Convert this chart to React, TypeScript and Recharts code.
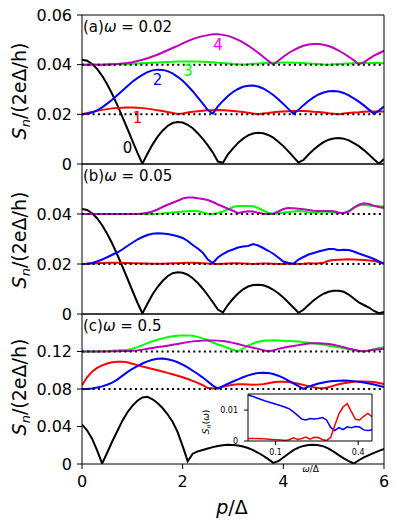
import { LineChart, Line, XAxis, YAxis, ReferenceLine, CartesianGrid } from 'recharts';

// momentum grid p/Δ
const P = [
  0, 0.1, 0.2, 0.3, 0.4, 0.5, 0.6, 0.7, 0.8, 0.9,
  1.0, 1.1, 1.2, 1.3, 1.4, 1.5, 1.6, 1.7, 1.8, 1.9,
  2.0, 2.1, 2.2, 2.3, 2.4, 2.5, 2.6, 2.7, 2.8, 2.9,
  3.0, 3.1, 3.2, 3.3, 3.4, 3.5, 3.6, 3.7, 3.8, 3.9,
  4.0, 4.1, 4.2, 4.3, 4.4, 4.5, 4.6, 4.7, 4.8, 4.9,
  5.0, 5.1, 5.2, 5.3, 5.4, 5.5, 5.6, 5.7, 5.8, 5.9,
  6.0,
];

// (a) ω = 0.02
const A_S0 = [
  0.0420, 0.0416, 0.0403, 0.0383, 0.0355, 0.0321, 0.0282, 0.0238, 0.0191, 0.0143,
  0.0094, 0.0046, 0.0001, 0.0041, 0.0078, 0.0109, 0.0134, 0.0153, 0.0165, 0.0169,
  0.0167, 0.0158, 0.0144, 0.0124, 0.0101, 0.0075, 0.0046, 0.0010, 0.0005, 0.0039,
  0.0063, 0.0085, 0.0102, 0.0115, 0.0123, 0.0126, 0.0124, 0.0117, 0.0106, 0.0090,
  0.0072, 0.0051, 0.0029, 0.0006, 0.0016, 0.0038, 0.0057, 0.0074, 0.0088, 0.0098,
  0.0103, 0.0105, 0.0102, 0.0095, 0.0084, 0.0072, 0.0056, 0.0038, 0.0019, 0.0001,
  0.0020,
];
const A_S1 = [
  0.0200, 0.0205, 0.0209, 0.0214, 0.0218, 0.0221, 0.0224, 0.0226, 0.0227, 0.0228,
  0.0228, 0.0227, 0.0225, 0.0223, 0.0220, 0.0216, 0.0213, 0.0209, 0.0205, 0.0201,
  0.0203, 0.0207, 0.0210, 0.0212, 0.0214, 0.0216, 0.0216, 0.0217, 0.0216, 0.0215,
  0.0213, 0.0211, 0.0209, 0.0206, 0.0203, 0.0200, 0.0203, 0.0205, 0.0208, 0.0210,
  0.0211, 0.0212, 0.0213, 0.0213, 0.0213, 0.0212, 0.0210, 0.0209, 0.0207, 0.0204,
  0.0202, 0.0200, 0.0203, 0.0205, 0.0207, 0.0208, 0.0210, 0.0211, 0.0211, 0.0211,
  0.0211,
];
const A_S2 = [
  0.0200, 0.0202, 0.0207, 0.0216, 0.0228, 0.0243, 0.0259, 0.0277, 0.0295, 0.0313,
  0.0331, 0.0346, 0.0359, 0.0370, 0.0377, 0.0380, 0.0379, 0.0374, 0.0365, 0.0351,
  0.0335, 0.0315, 0.0293, 0.0268, 0.0243, 0.0217, 0.0203, 0.0232, 0.0254, 0.0274,
  0.0290, 0.0302, 0.0311, 0.0315, 0.0316, 0.0312, 0.0304, 0.0292, 0.0278, 0.0261,
  0.0242, 0.0222, 0.0202, 0.0218, 0.0237, 0.0254, 0.0268, 0.0280, 0.0288, 0.0293,
  0.0294, 0.0292, 0.0286, 0.0276, 0.0264, 0.0251, 0.0236, 0.0219, 0.0202, 0.0215,
  0.0231,
];
const A_S3 = [
  0.0400, 0.0400, 0.0400, 0.0400, 0.0400, 0.0401, 0.0401, 0.0402, 0.0402, 0.0403,
  0.0404, 0.0405, 0.0406, 0.0407, 0.0408, 0.0409, 0.0410, 0.0411, 0.0412, 0.0413,
  0.0413, 0.0413, 0.0413, 0.0413, 0.0412, 0.0411, 0.0410, 0.0408, 0.0407, 0.0405,
  0.0403, 0.0402, 0.0400, 0.0402, 0.0404, 0.0405, 0.0406, 0.0407, 0.0408, 0.0408,
  0.0409, 0.0409, 0.0408, 0.0408, 0.0407, 0.0405, 0.0404, 0.0403, 0.0401, 0.0400,
  0.0402, 0.0403, 0.0404, 0.0405, 0.0406, 0.0407, 0.0407, 0.0407, 0.0407, 0.0407,
  0.0406,
];
const A_S4 = [
  0.0400, 0.0400, 0.0400, 0.0400, 0.0400, 0.0401, 0.0402, 0.0403, 0.0405, 0.0407,
  0.0410, 0.0415, 0.0420, 0.0426, 0.0433, 0.0440, 0.0449, 0.0458, 0.0467, 0.0476,
  0.0486, 0.0495, 0.0503, 0.0510, 0.0515, 0.0519, 0.0522, 0.0522, 0.0520, 0.0516,
  0.0509, 0.0500, 0.0490, 0.0477, 0.0463, 0.0448, 0.0432, 0.0415, 0.0401, 0.0416,
  0.0432, 0.0446, 0.0458, 0.0468, 0.0476, 0.0481, 0.0483, 0.0483, 0.0480, 0.0475,
  0.0467, 0.0457, 0.0445, 0.0432, 0.0418, 0.0402, 0.0409, 0.0423, 0.0436, 0.0446,
  0.0456,
];

// (b) ω = 0.05
const B_S0 = [
  0.0420, 0.0416, 0.0403, 0.0383, 0.0355, 0.0321, 0.0282, 0.0238, 0.0191, 0.0143,
  0.0094, 0.0046, 0.0002, 0.0041, 0.0078, 0.0108, 0.0132, 0.0151, 0.0163, 0.0167,
  0.0165, 0.0157, 0.0143, 0.0124, 0.0101, 0.0075, 0.0047, 0.0018, 0.0006, 0.0037,
  0.0061, 0.0082, 0.0099, 0.0110, 0.0116, 0.0117, 0.0115, 0.0108, 0.0097, 0.0083,
  0.0066, 0.0046, 0.0026, 0.0005, 0.0017, 0.0036, 0.0054, 0.0069, 0.0081, 0.0089,
  0.0093, 0.0093, 0.0089, 0.0078, 0.0062, 0.0046, 0.0036, 0.0026, 0.0012, 0.0003,
  0.0008,
];
const B_S1 = [
  0.0200, 0.0201, 0.0202, 0.0203, 0.0204, 0.0205, 0.0205, 0.0205, 0.0204, 0.0204,
  0.0203, 0.0203, 0.0202, 0.0202, 0.0201, 0.0201, 0.0201, 0.0202, 0.0203, 0.0203,
  0.0204, 0.0205, 0.0205, 0.0204, 0.0203, 0.0202, 0.0201, 0.0200, 0.0201, 0.0202,
  0.0203, 0.0203, 0.0202, 0.0201, 0.0200, 0.0201, 0.0202, 0.0202, 0.0201, 0.0200,
  0.0200, 0.0201, 0.0201, 0.0200, 0.0201, 0.0203, 0.0202, 0.0203, 0.0205, 0.0213,
  0.0216, 0.0217, 0.0218, 0.0219, 0.0218, 0.0217, 0.0216, 0.0214, 0.0212, 0.0208,
  0.0204,
];
const B_S2 = [
  0.0200, 0.0201, 0.0204, 0.0210, 0.0218, 0.0227, 0.0237, 0.0246, 0.0258, 0.0272,
  0.0285, 0.0298, 0.0308, 0.0316, 0.0321, 0.0323, 0.0322, 0.0320, 0.0316, 0.0311,
  0.0304, 0.0292, 0.0276, 0.0262, 0.0245, 0.0218, 0.0204, 0.0226, 0.0240, 0.0251,
  0.0258, 0.0266, 0.0270, 0.0272, 0.0280, 0.0274, 0.0264, 0.0253, 0.0241, 0.0226,
  0.0210, 0.0204, 0.0201, 0.0218, 0.0228, 0.0238, 0.0244, 0.0250, 0.0255, 0.0260,
  0.0260, 0.0255, 0.0257, 0.0256, 0.0250, 0.0242, 0.0235, 0.0228, 0.0220, 0.0210,
  0.0200,
];
const B_S3 = [
  0.0400, 0.0400, 0.0400, 0.0400, 0.0400, 0.0400, 0.0400, 0.0400, 0.0400, 0.0400,
  0.0400, 0.0400, 0.0400, 0.0400, 0.0400, 0.0401, 0.0402, 0.0404, 0.0406, 0.0408,
  0.0410, 0.0411, 0.0412, 0.0412, 0.0406, 0.0401, 0.0400, 0.0404, 0.0410, 0.0418,
  0.0428, 0.0432, 0.0432, 0.0432, 0.0431, 0.0424, 0.0414, 0.0405, 0.0401, 0.0402,
  0.0406, 0.0408, 0.0410, 0.0412, 0.0410, 0.0407, 0.0405, 0.0407, 0.0410, 0.0408,
  0.0406, 0.0404, 0.0404, 0.0412, 0.0425, 0.0434, 0.0437, 0.0434, 0.0432, 0.0431,
  0.0430,
];
const B_S4 = [
  0.0400, 0.0400, 0.0400, 0.0400, 0.0400, 0.0400, 0.0400, 0.0400, 0.0400, 0.0400,
  0.0400, 0.0400, 0.0402, 0.0405, 0.0410, 0.0418, 0.0428, 0.0437, 0.0445, 0.0453,
  0.0462, 0.0466, 0.0466, 0.0463, 0.0460, 0.0456, 0.0448, 0.0438, 0.0430, 0.0421,
  0.0413, 0.0403, 0.0408, 0.0411, 0.0410, 0.0405, 0.0401, 0.0400, 0.0401, 0.0410,
  0.0420, 0.0424, 0.0423, 0.0421, 0.0419, 0.0416, 0.0413, 0.0412, 0.0412, 0.0412,
  0.0411, 0.0406, 0.0403, 0.0410, 0.0425, 0.0437, 0.0443, 0.0440, 0.0433, 0.0428,
  0.0424,
];

// (c) ω = 0.5
const C_S0 = [
  0.0420, 0.0360, 0.0270, 0.0145, 0.0005, 0.0120, 0.0240, 0.0350, 0.0460, 0.0550,
  0.0620, 0.0675, 0.0710, 0.0716, 0.0690, 0.0650, 0.0597, 0.0530, 0.0450, 0.0340,
  0.0190, 0.0030, 0.0110, 0.0135, 0.0150, 0.0165, 0.0180, 0.0192, 0.0200, 0.0204,
  0.0203, 0.0198, 0.0187, 0.0170, 0.0148, 0.0120, 0.0088, 0.0052, 0.0012, 0.0030,
  0.0070, 0.0110, 0.0148, 0.0175, 0.0193, 0.0202, 0.0204, 0.0200, 0.0188, 0.0165,
  0.0132, 0.0095, 0.0060, 0.0030, 0.0005, 0.0040, 0.0070, 0.0095, 0.0118, 0.0140,
  0.0160,
];
const C_S1 = [
  0.0840, 0.0925, 0.0985, 0.1025, 0.1052, 0.1072, 0.1085, 0.1092, 0.1092, 0.1085,
  0.1070, 0.1055, 0.1040, 0.1027, 0.1014, 0.1000, 0.0986, 0.0972, 0.0957, 0.0941,
  0.0925, 0.0906, 0.0887, 0.0866, 0.0840, 0.0810, 0.0805, 0.0812, 0.0825, 0.0836,
  0.0845, 0.0850, 0.0850, 0.0848, 0.0846, 0.0847, 0.0852, 0.0862, 0.0872, 0.0878,
  0.0878, 0.0874, 0.0866, 0.0856, 0.0844, 0.0830, 0.0818, 0.0810, 0.0808, 0.0818,
  0.0836, 0.0850, 0.0862, 0.0870, 0.0876, 0.0879, 0.0880, 0.0878, 0.0874, 0.0864,
  0.0852,
];
const C_S2 = [
  0.0800, 0.0801, 0.0806, 0.0815, 0.0828, 0.0845, 0.0868, 0.0900, 0.0940, 0.0980,
  0.1015, 0.1045, 0.1072, 0.1095, 0.1112, 0.1122, 0.1124, 0.1118, 0.1105, 0.1085,
  0.1060, 0.1030, 0.0995, 0.0960, 0.0922, 0.0880, 0.0836, 0.0803, 0.0830, 0.0856,
  0.0880, 0.0903, 0.0925, 0.0945, 0.0960, 0.0970, 0.0973, 0.0970, 0.0960, 0.0942,
  0.0918, 0.0890, 0.0860, 0.0830, 0.0802, 0.0825, 0.0843, 0.0858, 0.0870, 0.0880,
  0.0886, 0.0889, 0.0890, 0.0889, 0.0884, 0.0877, 0.0868, 0.0858, 0.0848, 0.0835,
  0.0820,
];
const C_S3 = [
  0.1200, 0.1200, 0.1200, 0.1201, 0.1202, 0.1204, 0.1207, 0.1211, 0.1216, 0.1220,
  0.1230, 0.1247, 0.1268, 0.1290, 0.1310, 0.1326, 0.1340, 0.1352, 0.1362, 0.1368,
  0.1372, 0.1372, 0.1368, 0.1356, 0.1340, 0.1320, 0.1295, 0.1275, 0.1258, 0.1238,
  0.1218, 0.1202, 0.1232, 0.1262, 0.1286, 0.1305, 0.1315, 0.1318, 0.1320, 0.1318,
  0.1315, 0.1312, 0.1310, 0.1306, 0.1300, 0.1294, 0.1287, 0.1280, 0.1273, 0.1264,
  0.1254, 0.1245, 0.1235, 0.1224, 0.1214, 0.1206, 0.1201, 0.1210, 0.1225, 0.1238,
  0.1245,
];
const C_S4 = [
  0.1200, 0.1200, 0.1200, 0.1200, 0.1200, 0.1201, 0.1202, 0.1203, 0.1204, 0.1205,
  0.1207, 0.1212, 0.1220, 0.1229, 0.1238, 0.1247, 0.1254, 0.1262, 0.1271, 0.1280,
  0.1290, 0.1300, 0.1308, 0.1313, 0.1316, 0.1318, 0.1318, 0.1316, 0.1312, 0.1303,
  0.1292, 0.1279, 0.1265, 0.1252, 0.1240, 0.1228, 0.1214, 0.1203, 0.1210, 0.1228,
  0.1240, 0.1250, 0.1258, 0.1268, 0.1278, 0.1285, 0.1289, 0.1289, 0.1286, 0.1280,
  0.1273, 0.1260, 0.1246, 0.1231, 0.1219, 0.1207, 0.1201, 0.1210, 0.1218, 0.1225,
  0.1230,
];

// inset: S_n(ω) vs ω/Δ
const W = [
  0, 0.015, 0.03, 0.045, 0.06, 0.075, 0.09, 0.105, 0.12, 0.135,
  0.15, 0.165, 0.18, 0.195, 0.21, 0.225, 0.24, 0.255, 0.27, 0.285,
  0.3, 0.315, 0.33, 0.345, 0.36, 0.375, 0.39, 0.405, 0.42, 0.435,
  0.45,
];
const INSET_BLUE = [
  0.0149, 0.0145, 0.0140, 0.0135, 0.0130, 0.0126, 0.0122, 0.0118, 0.0114, 0.0109,
  0.0104, 0.0094, 0.0083, 0.0071, 0.0068, 0.0073, 0.0071, 0.0073, 0.0076, 0.0068,
  0.0044, 0.0034, 0.0043, 0.0037, 0.0046, 0.0043, 0.0047, 0.0045, 0.0036, 0.0034,
  0.0036,
];
const INSET_RED = [
  0.0008, 0.0008, 0.0008, 0.0007, 0.0007, 0.0006, 0.0005, 0.0004, 0.0003, 0.0002,
  0.0004, 0.0010, 0.0005, 0.0008, 0.0013, 0.0006, 0.0012, 0.0011, 0.0005, 0.0001,
  0.0012, 0.0050, 0.0088, 0.0110, 0.0121, 0.0095, 0.0070, 0.0068, 0.0080, 0.0089,
  0.0079,
];

const COLORS = ['#000000', '#ff0000', '#0000ff', '#00ff00', '#bf00bf'];
const KEYS = ['s0', 's1', 's2', 's3', 's4'];

const rows = (series: number[][]) =>
  P.map((p, i) => {
    const r: Record<string, number> = { p };
    series.forEach((s, k) => (r[KEYS[k]] = s[i]));
    return r;
  });

const dataA = rows([A_S0, A_S1, A_S2, A_S3, A_S4]);
const dataB = rows([B_S0, B_S1, B_S2, B_S3, B_S4]);
const dataC = rows([C_S0, C_S1, C_S2, C_S3, C_S4]);
const insetData = W.map((w, i) => ({ w, blue: INSET_BLUE[i], red: INSET_RED[i] }));

const fmt = (v: number) => (v === 0 ? '0' : String(v));
const AX = { stroke: '#000' };

interface PanelProps {
  data: Record<string, number>[];
  top: number;
  height: number;
  marginTop: number;
  marginBottom: number;
  yMax: number;
  yTicks: number[];
  dotted: number[];
  showX?: boolean;
}

function Panel({ data, top, height, marginTop, marginBottom, yMax, yTicks, dotted, showX }: PanelProps) {
  return (
    <div style={{ position: 'absolute', left: 0, top }}>
      <LineChart width={399} height={height} data={data} margin={{ top: marginTop, right: 15, bottom: marginBottom, left: 0 }}>
        <XAxis
          type="number"
          dataKey="p"
          domain={[0, 6]}
          ticks={[0, 2, 4, 6]}
          allowDataOverflow
          height={showX ? 62 : 1}
          tick={showX ? { fill: '#000', fontSize: 16 } : false}
          tickLine={showX ? AX : false}
          tickSize={5}
          tickMargin={7}
          axisLine={AX}
        />
        <YAxis
          type="number"
          domain={[0, yMax]}
          ticks={yTicks}
          allowDataOverflow
          width={82}
          interval={0}
          tickFormatter={fmt}
          tick={{ fill: '#000', fontSize: 16 }}
          tickLine={AX}
          tickSize={5}
          tickMargin={5}
          axisLine={AX}
        />
        {KEYS.map((k, i) => (
          <Line
            key={k}
            type="linear"
            dataKey={k}
            stroke={COLORS[i]}
            strokeWidth={2}
            dot={false}
            isAnimationActive={false}
          />
        ))}
        {dotted.map((y) => (
          <ReferenceLine key={y} y={y} stroke="#000" strokeWidth={2} strokeDasharray="2 3.3" />
        ))}
        <ReferenceLine x={6} stroke="#000" />
        <ReferenceLine y={yMax} stroke="#000" />
      </LineChart>
    </div>
  );
}

function Inset() {
  return (
    <div style={{ position: 'absolute', left: 190, top: 385 }}>
      <LineChart width={195} height={90} data={insetData} margin={{ top: 9, right: 13, bottom: 0, left: 0 }}>
        <CartesianGrid fill="#fff" horizontal={false} vertical={false} />
        <XAxis
          type="number"
          dataKey="w"
          domain={[0, 0.45]}
          ticks={[0.1, 0.4]}
          allowDataOverflow
          height={34}
          tick={{ fill: '#000', fontSize: 8 }}
          tickLine={AX}
          tickSize={4}
          tickMargin={4}
          axisLine={AX}
        />
        <YAxis
          type="number"
          domain={[0, 0.0152]}
          ticks={[0, 0.01]}
          allowDataOverflow
          width={58}
          interval={0}
          tickFormatter={fmt}
          tick={{ fill: '#000', fontSize: 8 }}
          tickLine={AX}
          tickSize={4}
          tickMargin={6}
          axisLine={AX}
        />
        <Line type="linear" dataKey="blue" stroke="#0000ff" strokeWidth={1.5} dot={false} isAnimationActive={false} />
        <Line type="linear" dataKey="red" stroke="#ff0000" strokeWidth={1.5} dot={false} isAnimationActive={false} />
        <ReferenceLine x={0.45} stroke="#000" />
        <ReferenceLine y={0.0152} stroke="#000" />
      </LineChart>
    </div>
  );
}

function YLabel({ y }: { y: number }) {
  return (
    <text transform={`translate(25.5, ${y}) rotate(-90)`} textAnchor="middle" fontSize={19}>
      <tspan fontStyle="italic">S</tspan>
      <tspan fontStyle="italic" fontSize={13} dy={4}>n</tspan>
      <tspan dy={-4}>/(2eΔ/h)</tspan>
    </text>
  );
}

export default function App() {
  return (
    <div style={{ position: 'absolute', left: 0, top: 0, width: 399, height: 526, background: '#fff', fontFamily: '"DejaVu Sans", sans-serif' }}>
      <Panel data={dataA} top={0} height={175} marginTop={15} marginBottom={10} yMax={0.06} yTicks={[0, 0.02, 0.04, 0.06]} dotted={[0.02, 0.04]} />
      <Panel data={dataB} top={150} height={175} marginTop={14} marginBottom={10} yMax={0.06} yTicks={[0, 0.02, 0.04]} dotted={[0.02, 0.04]} />
      <Panel data={dataC} top={300} height={226} marginTop={14} marginBottom={0} yMax={0.16} yTicks={[0, 0.04, 0.08, 0.12]} dotted={[0.08, 0.12]} showX />
      <Inset />
      <svg width={399} height={526} style={{ position: 'absolute', left: 0, top: 0, pointerEvents: 'none' }}>
        <text x={83} y={31.5} fontSize={15}>(a)<tspan fontStyle="italic">ω</tspan>{' = 0.02'}</text>
        <text x={83} y={181} fontSize={15}>(b)<tspan fontStyle="italic">ω</tspan>{' = 0.05'}</text>
        <text x={83} y={331} fontSize={15}>(c)<tspan fontStyle="italic">ω</tspan>{' = 0.5'}</text>

        <text x={127.5} y={153} fontSize={15} textAnchor="middle" fill="#000">0</text>
        <text x={137.5} y={123} fontSize={15} textAnchor="middle" fill="#ff0000">1</text>
        <text x={157.5} y={85} fontSize={15} textAnchor="middle" fill="#0000ff">2</text>
        <text x={188} y={75.5} fontSize={15} textAnchor="middle" fill="#00ff00">3</text>
        <text x={218} y={49.5} fontSize={15} textAnchor="middle" fill="#ff00ff">4</text>

        <YLabel y={91} />
        <YLabel y={240} />
        <YLabel y={387} />
        <text x={232} y={514} fontSize={19} textAnchor="middle">
          <tspan fontStyle="italic">p</tspan>/Δ
        </text>

        <text transform="translate(208.5, 422) rotate(-90)" textAnchor="middle" fontSize={9}>
          <tspan fontStyle="italic">S</tspan>
          <tspan fontStyle="italic" fontSize={6.5} dy={2}>n</tspan>
          <tspan dy={-2}>(</tspan>
          <tspan fontStyle="italic">ω</tspan>
          <tspan>)</tspan>
        </text>
        <text x={310.5} y={472} fontSize={9} textAnchor="middle">
          <tspan fontStyle="italic">ω</tspan>/Δ
        </text>
      </svg>
    </div>
  );
}
